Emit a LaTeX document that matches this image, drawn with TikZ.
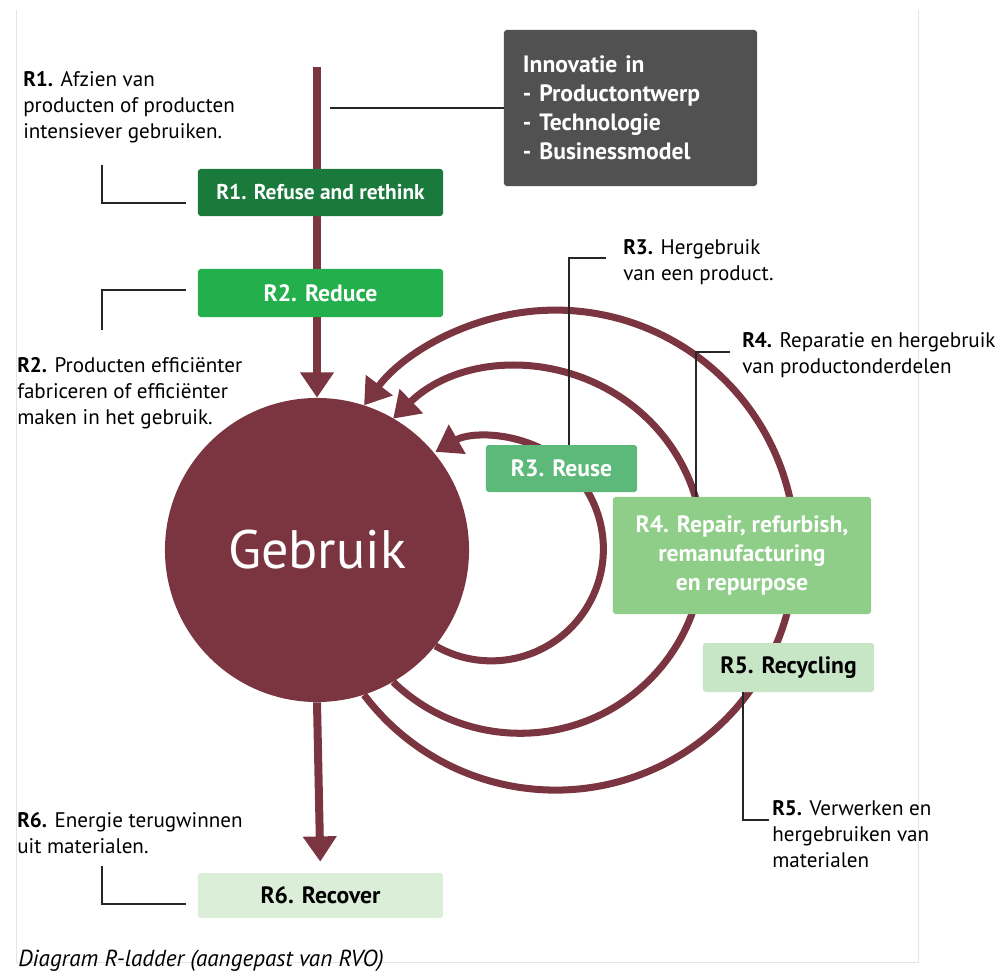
\documentclass[tikz,border=0pt]{standalone}
\usepackage{fontspec}
\setmainfont{PT Sans}
\usepackage{tikz}
\usetikzlibrary{arrows.meta}
\usetikzlibrary{calc}
\definecolor{wine}{RGB}{123,53,64}
\definecolor{slate}{RGB}{81,81,81}
\definecolor{rone}{RGB}{26,122,60}
\definecolor{rtwo}{RGB}{35,176,76}
\definecolor{rthree}{RGB}{92,185,121}
\definecolor{rfour}{RGB}{143,206,137}
\definecolor{rfive}{RGB}{199,230,197}
\definecolor{rsix}{RGB}{218,238,216}
\definecolor{framegray}{RGB}{228,228,228}

\begin{document}
\begin{tikzpicture}[x=0.025cm,y=-0.025cm,
  rbox/.style={rounded corners=2pt, inner sep=0pt, align=center, font=\bfseries\fontsize{16.8}{20.6}\selectfont},
  note/.style={anchor=west, inner sep=0pt, align=left, font=\fontsize{15}{18.5}\selectfont},
  callout/.style={line width=0.8pt, color=black!85},
  bigarrow/.style={line width=5.7pt, color=wine, -{Triangle[length=18pt, width=23pt]}},
  ring/.style={line width=5pt, color=wine, -{Triangle[length=18pt, width=23pt]}}]
\useasboundingbox (0,0) rectangle (1000,974);
\clip (0,0) rectangle (1000,974);
\draw [color=framegray, line width=0.6pt] (16,10) -- (16,962) -- (918,962) -- (918,10);

\node (gebruik) [circle, fill=wine, minimum size=7.6cm, inner sep=0pt, text=white, font=\fontsize{38.5}{42}\selectfont] at (317,550) {Gebruik};
\node (recover) [rbox, fill=rsix, minimum width=6.125cm, minimum height=1.125cm] at (320.5,895.5) {R6. Recover};

\coordinate (ctop) at (317,67);
\draw [bigarrow] (ctop) -- (gebruik.north);
\draw [bigarrow, shorten >=0.275cm] (gebruik.south) -- (recover.north);

% loops back to gebruik
\draw [ring] (gebruik.-72.2) arc[start angle=142.9, end angle=-142.9, radius=240];
\draw [ring] (gebruik.-60) arc[start angle=134, end angle=-134, radius=183];
\draw [ring] (gebruik.-39.7) arc[start angle=120, end angle=-120, radius=112];

\node (refuse) [rbox, fill=rone, text=white, minimum width=6.125cm, minimum height=1.175cm, font=\bfseries\fontsize{15.2}{18}\selectfont] at (320.5,192.5) {R1. Refuse and rethink};
\node (reduce) [rbox, fill=rtwo, text=white, minimum width=6.125cm, minimum height=1.2cm] at (320.5,293) {R2. Reduce};
\node (reuse) [rbox, fill=rthree, text=white, minimum width=3.775cm, minimum height=1.175cm] at (561.5,468.5) {R3. Reuse};
\node (repair) [rbox, fill=rfour, text=white, minimum width=6.45cm, minimum height=2.925cm] at (742,555.5) {R4. Repair, refurbish,\\remanufacturing\\en repurpose};
\node (recycling) [rbox, fill=rfive, minimum width=4.275cm, minimum height=1.225cm] at (788.5,667.5) {R5. Recycling};
\node (innov) [rbox, fill=slate, text=white, align=left, text width=5.375cm, minimum width=6.325cm, minimum height=3.9cm] at (630.5,108) {Innovatie in\\- Productontwerp\\- Technologie\\- Businessmodel};

% callouts
\coordinate (conea) at (102,165);
\coordinate (coneb) at (186,203);
\draw [callout] (conea) |- (coneb);
\coordinate (ctwoa) at (186,290);
\coordinate (ctwob) at (102,330);
\draw [callout] (ctwoa) -| (ctwob);
\coordinate (csixa) at (102,866);
\coordinate (csixb) at (186,904);
\draw [callout] (csixa) |- (csixb);
\coordinate (cthree) at (606,258);
\draw [callout] (cthree) -| ($(reuse.north)+(7.5,0)$);
\coordinate (cfour) at (730,352);
\draw [callout] (cfour) -| ($(repair.north)+(-46,0)$);
\coordinate (cfive) at (769,820);
\draw [callout] ($(recycling.south)+(-45.5,0)$) |- (cfive);
\coordinate (cinnov) at (330,108);
\draw [callout] (innov.west) -- (cinnov);

\node (txtrone) [note] at (23,107.5) {\textbf{R1.} Afzien van\\producten of producten\\intensiever gebruiken.};
\node (txtrtwo) [note] at (17,393) {\textbf{R2.} Producten efficiënter\\fabriceren of efficiënter\\maken in het gebruik.};
\node (txtrthree) [note] at (623,262.5) {\textbf{R3.} Hergebruik\\van een product.};
\node (txtrfour) [note] at (742,355.5) {\textbf{R4.} Reparatie en hergebruik\\van productonderdelen};
\node (txtrfive) [note] at (772,834.5) {\textbf{R5.} Verwerken en\\hergebruiken van\\materialen};
\node (txtrsix) [note] at (17,833) {\textbf{R6.} Energie terugwinnen\\uit materialen.};

\node (caption) [anchor=base west, inner sep=0pt, font=\itshape\fontsize{16.5}{18}\selectfont] at (18,966) {Diagram R-ladder (aangepast van RVO)};
\end{tikzpicture}
\end{document}
